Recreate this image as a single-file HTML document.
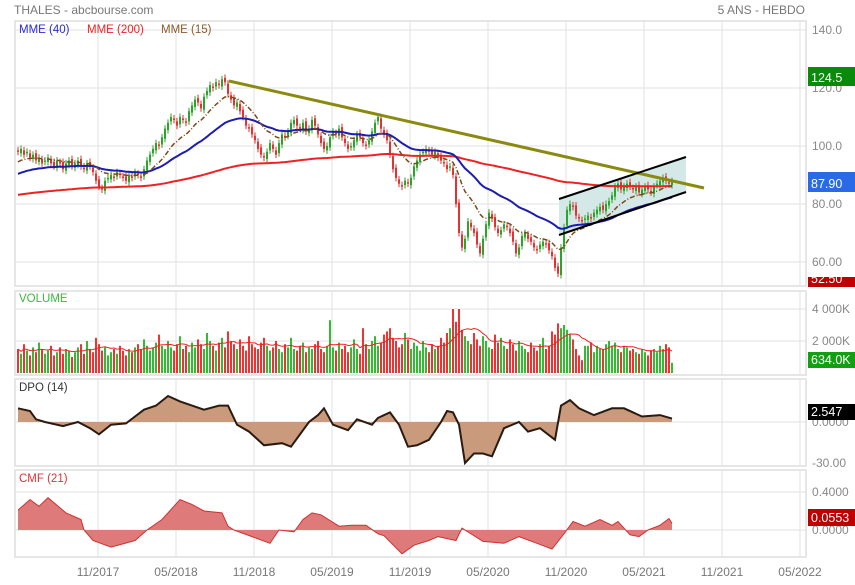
<!DOCTYPE html>
<html><head><meta charset="utf-8"><style>
body{margin:0;background:#fff;width:855px;height:580px;overflow:hidden;font-family:"Liberation Sans",sans-serif}
svg text{font-family:"Liberation Sans",sans-serif}
</style></head><body>
<svg id="c" width="855" height="580" xmlns="http://www.w3.org/2000/svg">
<text x="14" y="14" font-size="12" fill="#777">THALES - abcbourse.com</text>
<text x="805" y="14" font-size="12" fill="#777" text-anchor="end">5 ANS - HEBDO</text>
</svg>
<script>
const closes=[98,99,97,98,96,97,95,96,94,95,96,94,93,95,94,92,94,95,93,94,95,93,92,94,93,91,88,
86,85,88,89,90,89,91,90,89,88,90,89,91,90,89,92,
95,97,99,101,100,103,106,108,110,109,107,110,109,108,112,114,116,115,113,117,119,121,120,122,121,123,122,
118,116,114,115,112,110,107,106,104,102,99,97,96,98,101,99,97,101,104,103,105,
108,109,107,106,108,105,106,109,107,104,101,99,100,103,105,104,106,103,101,99,100,102,104,103,101,100,102,105,108,110,106,104,102,97,92,
89,87,86,88,87,89,93,95,97,98,99,98,97,98,96,95,94,92,93,90,
80,70,65,68,74,72,70,66,63,68,73,77,75,72,70,71,73,72,70,67,63,65,69,70,68,67,65,64,66,67,66,64,62,58,56,
65,72,78,80,79,76,75,74,75,76,75,77,78,79,78,80,81,83,86,87,85,86,87,86,85,86,84,85,86,85,84,86,87,88,89,88,87,87.9];
const volumes=[1500,1200,1800,1400,1100,1600,1300,1900,1500,1200,1400,1700,1100,1300,1600,1200,1500,1400,1000,1300,
1600,1800,1200,2000,1500,1300,2200,1800,1400,1600,1100,1300,1500,1200,1700,1400,1100,1500,1300,1600,
1800,1500,2100,1700,1400,1600,1900,2400,1700,1500,2000,1600,1400,1800,2300,1500,1700,1300,1900,1600,
2100,1800,1500,2500,2000,1700,1400,1900,2200,1600,2600,2000,1800,1500,2100,1700,1400,2300,1800,1600,
1500,1900,2200,1700,1400,1600,2000,1500,1300,1800,1600,2200,1500,1400,1700,1900,1300,1600,1500,1800,
2000,1500,1300,1700,3300,1600,1400,1900,1500,1700,1300,1600,2100,1500,1200,2800,1800,1500,2000,2300,
1700,1900,2400,2600,2800,2200,2000,1600,1800,2500,2100,1500,1900,1700,1400,2000,1600,1300,1800,1500,
1700,2200,1900,2500,2800,4000,3200,4000,2700,2300,2000,1800,2500,2100,1700,2300,2000,1600,1500,2400,
1900,2200,1700,1500,2100,1800,1400,2000,1700,1500,1300,1900,1600,1400,1800,2200,1500,1700,2600,2400,
3100,2800,3000,2700,2400,2100,1500,1100,800,1700,1700,1900,1300,1700,1500,1500,1800,2000,1700,1900,
1500,1300,1700,1600,1400,1500,1300,1200,1500,1300,1100,1400,1500,1300,1700,1500,1800,1600,634];
const dpoWeeks=[0,4,6,9,15,20,24,27,31,36,39,42,46,50,54,58,62,67,70,73,77,82,88,88,91,97,100,102,105,110,113,118,120,124,127,130,133,137,141,143,145,147,149,152,155,158,162,167,170,174,179,181,184,187,192,198,202,208,214,218];
const dpoVals=[10,8,2,0,-3,0,-4.5,-9,-2,-1,4,9,12,19,15,12,9,12,12,-2,-7,-17,-15.5,-15.5,-18,0,5,10,-2,-6,2,-2,3,7,-2,-18,-17,-13,0,8,7,-2,-30,-23,-23,-25,-4.5,0,-7,-4.5,-13,12,16,10,5,10,10,4,5,2.5];
const cmfWeeks=[0,4,7,10,16,21,22,25,31,39,43,48,54,58,62,68,70,72,78,84,87,92,95,98,101,107,111,116,120,122,128,132,137,140,146,148,155,162,167,173,178,182,185,189,194,198,200,204,207,210,214,217,218];
const cmfVals=[0.21,0.32,0.25,0.34,0.18,0.11,0,-0.11,-0.18,-0.11,0,0.11,0.32,0.27,0.2,0.18,0.04,0,-0.07,-0.14,0,-0.02,0.11,0.18,0.16,0.04,0.05,0.05,-0.04,-0.06,-0.25,-0.16,-0.11,-0.07,-0.11,0.02,-0.12,-0.14,-0.07,-0.14,-0.2,-0.04,0.09,0.04,0.11,0.05,0.09,-0.05,-0.07,0,0.05,0.12,0.07];
const xTicks=["11/2017","05/2018","11/2018","05/2019","11/2019","05/2020","11/2020","05/2021","11/2021","05/2022"];
const priceTicks=[140,120,100,80,60];

const NS="http://www.w3.org/2000/svg";
const svg=document.getElementById('c');
function mk(tag,attrs,parent){const e=document.createElementNS(NS,tag);for(const k in attrs)e.setAttribute(k,attrs[k]);(parent||svg).appendChild(e);return e;}
const X=i=>18+3*i;
const gridX=i=>98+78*i;
const yP=v=>146-(v-100)*2.9;
const yV=v=>373-v*0.016;
const yD=v=>422-v*1.37;
const yC=v=>530-v*95;
const L=15,R=806;
// panels
const panels=[[21,286,'price-panel'],[291,375,'volume-panel'],[379,466,'dpo-panel'],[470,557,'cmf-panel']];
panels.forEach(p=>{const r=mk('rect',{x:L,y:p[0],width:R-L,height:p[1]-p[0],fill:'#fff',stroke:'#ddd','stroke-width':1.5});


xTicks.forEach((t,i)=>{const gx=gridX(i);if(gx<R){const g=mk('line',{x1:gx,x2:gx,y1:p[0],y2:p[1],stroke:'#e2e2e2'});

}});
});
function hgrid(y,x2){const g=mk('line',{x1:L,x2:R,y1:y,y2:y,stroke:'#e2e2e2'});

}
function rlab(y,t){const e=mk('text',{x:812,y:y+4,'font-size':12,fill:'#888'});e.textContent=t;

}
priceTicks.forEach(v=>{hgrid(yP(v));rlab(yP(v),v.toFixed(v>=100?1:2));});
[4000,2000].forEach(v=>{hgrid(yV(v));rlab(yV(v),(v/1000)+' 000K');});
hgrid(yD(0));rlab(yD(0),'0.0000');rlab(yD(-30),'-30.00');
hgrid(yC(0.4));hgrid(yC(0));rlab(yC(0.4),'0.4000');rlab(yC(0),'0.0000');
xTicks.forEach((t,i)=>{const e=mk('text',{x:gridX(i),y:576,'font-size':12,fill:'#777','text-anchor':'middle'});e.textContent=t;

});
// channel
const ch=mk('polygon',{points:'559,199 686,157 686,192 559,235',fill:'#d4e8e8',stroke:'none'});


// candles
const opens=closes.map((c,i)=>i?closes[i-1]+(i%3===0?0.5:-0.5):c+0.5);
closes.forEach((c,i)=>{const o=opens[i];const up=c>=o;const col=up?'#2aa52a':'#e23232';
const hi=Math.max(o,c)+1.2,lo=Math.min(o,c)-1.2;
const w=mk('line',{x1:X(i),x2:X(i),y1:yP(hi),y2:yP(lo),stroke:col,'stroke-width':1});


const b=mk('rect',{x:X(i)-1,y:yP(Math.max(o,c)),width:2,height:Math.max(1,Math.abs(o-c)*2.9),fill:col});

});
// EMAs
function ema(n,seed){const a=2/(n+1);let e=seed;return closes.map(c=>(e=e+a*(c-e)));}
function line(vals,fy,attrs,name,xs){const d=vals.map((v,i)=>(i?'L':'M')+(xs?xs(i):X(i))+','+fy(v).toFixed(1)).join('');const p=mk('path',Object.assign({d:d,fill:'none'},attrs));

return p;}
line(ema(200,83),yP,{stroke:'#ee2222','stroke-width':2},'mme-200-line');
line(ema(40,90),yP,{stroke:'#1c1cb0','stroke-width':2},'mme-40-line');
line(ema(15,94),yP,{stroke:'#7a4a1a','stroke-width':1.5,'stroke-dasharray':'5,2,1,2'},'mme-15-line');
// trendlines
const t1=mk('line',{x1:229,y1:81,x2:704,y2:188,stroke:'#8a8a10','stroke-width':3});


const t2=mk('line',{x1:559,y1:199,x2:686,y2:157,stroke:'#000','stroke-width':2});


const t3=mk('line',{x1:559,y1:235,x2:686,y2:192,stroke:'#000','stroke-width':2});


// volume
volumes.forEach((v,i)=>{const col=closes[i]>=opens[i]?'#33bb33':'#ee3333';
const b=mk('rect',{x:X(i)-1,y:yV(v),width:2,height:373-yV(v),fill:col});

});
const vma=volumes.map((v,i)=>{const s=volumes.slice(Math.max(0,i-9),i+1);return s.reduce((a,b)=>a+b,0)/s.length;});
line(vma,yV,{stroke:'#ee2222','stroke-width':1},'volume-average-line');
// DPO
function area(ws,vals,fy,fill,stroke,sw,name){const z=fy(0);let d='M'+X(ws[0])+','+z;ws.forEach((w,i)=>d+='L'+X(w)+','+fy(vals[i]).toFixed(1));d+='L'+X(ws[ws.length-1])+','+z+'Z';
const a=mk('path',{d:d,fill:fill});


line(vals,fy,{stroke:stroke,'stroke-width':sw},name+'-line',i=>X(ws[i]));}
area(dpoWeeks,dpoVals,yD,'#c99a7c','#2a1a10',2,'dpo');
area(cmfWeeks,cmfVals,yC,'#de7a7a','#d03030',1,'cmf');
// legends
function txt(x,y,t,col,name){const e=mk('text',{x:x,y:y,'font-size':11.5,fill:col});e.textContent=t;

}
txt(19,33,'MME (40)','#2a2ad0','legend-mme-40');
txt(87,33,'MME (200)','#ee2222','legend-mme-200');
txt(161,33,'MME (15)','#8a5a2a','legend-mme-15');
txt(19,302,'VOLUME','#3cb83c','volume-title');
txt(19,391,'DPO (14)','#333','dpo-title');
txt(19,482,'CMF (21)','#dd3333','cmf-title');
// badges
function badge(y,h,t,bg,name){const g=mk('g',{});


mk('rect',{x:808,y:y,width:47,height:h,fill:bg},g);const e=mk('text',{x:811,y:y+h-4,'font-size':12.5,fill:'#fff'},g);e.textContent=t;}
badge(67,19,'124.5','#0a8a0a','high-badge');
badge(172,20,'87.90','#2a6ae8','last-price-badge');
badge(277,10,'52.50','#c00000','low-badge');
badge(352,16,'634.0K','#11a011','volume-badge');
badge(404,16,'2.547','#000','dpo-badge');
badge(509,17,'0.0553','#c00000','cmf-badge');
</script>
</body></html>
